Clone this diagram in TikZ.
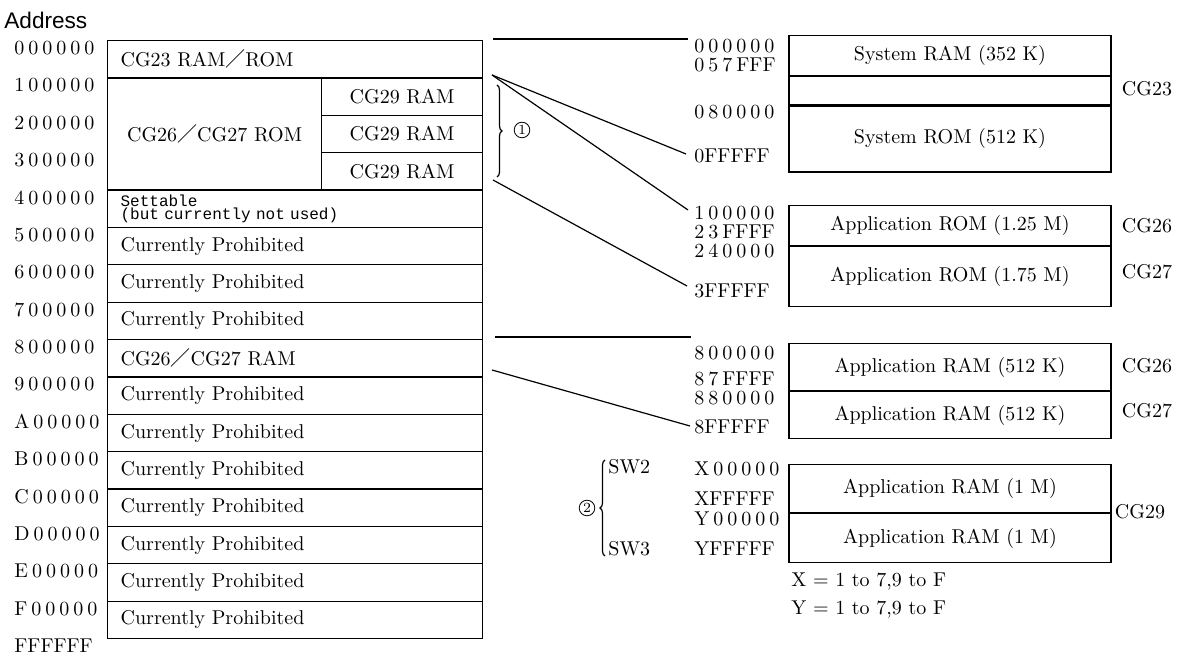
\documentclass[tikz,border=0pt]{standalone}
\usepackage{fontspec}
\newfontfamily\headfont{Liberation Sans}
\newfontfamily\notefont{Liberation Mono}
\newfontfamily\cjkfont{Noto Sans CJK JP}
\usetikzlibrary{positioning,decorations.pathreplacing}
% spaced digits of an address
\def\dgloop#1{\ifx#1\relax\else#1\hspace{2pt}\expandafter\dgloop\fi}
\newcommand\dg[1]{\dgloop#1\relax}
\newcommand\fsl{{\cjkfont ／}}
\tikzset{
    memcell/.style={
        draw,
        line width=0.6pt,
        rectangle,
        inner sep=0pt,
        font=\fontsize{10}{12}\selectfont
    },
    memrow/.style={
        memcell,
        anchor=north west,
        minimum width=187.5pt,
        minimum height=18.69pt,
        inner xsep=6.5pt,
        text width=174.5pt,
        align=left
    },
    block/.style={
        memcell,
        minimum width=161pt
    },
    addr/.style={
        anchor=west,
        inner sep=0pt,
        font=\fontsize{10}{11}\selectfont
    },
    cglab/.style={
        inner sep=0pt,
        font=\fontsize{10}{12}\selectfont
    },
    ringnum/.style={
        draw,
        circle,
        line width=0.4pt,
        inner sep=0.6pt,
        minimum size=7pt,
        font=\fontsize{7}{7}\selectfont
    },
    link/.style={
        line width=0.6pt
    }
}

\begin{document}
\begin{tikzpicture}[x=0.5pt,y=-0.5pt]
    \useasboundingbox (0,0) rectangle (1178,656);
    \node[anchor=west, inner sep=0pt, font=\headfont\fontsize{11.3}{13}\selectfont] (title) at (4,20) {Address};

    % left map, one row per 100000
    \node[memrow] (r0) at (107,40) {CG23 RAM\fsl ROM};
    \node[memcell, anchor=north west, minimum width=107pt, minimum height=56.06pt] (r1) at (107,77.375) {CG26\fsl CG27 ROM};
    \foreach \k in {1,2,3}
        \node[memcell, anchor=north west, minimum width=80.5pt, minimum height=18.69pt] (ram\k) at (321,{40+37.375*\k}) {CG29 RAM};
    \node[memrow, font=\notefont\fontsize{8}{6.5}\selectfont] (r4) at (107,189.5) {Settable\\(but currently not used)};
    \foreach \k in {5,6,7,9,10,11,12,13,14,15}
        \node[memrow] (r\k) at (107,{40+37.375*\k}) {Currently Prohibited};
    \node[memrow] (r8) at (107,339) {CG26\fsl CG27 RAM};

    \foreach \k/\lab in {0/000000,1/100000,2/200000,3/300000,4/400000,5/500000,6/600000,7/700000,8/800000,9/900000,10/A00000,11/B00000,12/C00000,13/D00000,14/E00000,15/F00000}
        \node[addr] (l\k) at (14,{48+37.375*\k}) {\expandafter\dg\expandafter{\lab}};
    \node[addr] (l16) at (14,646) {FFFFFF};

    % right blocks
    \node[block, anchor=north, minimum height=20pt] (sysram) at (950,35) {System RAM (352 K)};
    \node[block, minimum height=14pt, below=0pt of sysram] (sysgap) {};
    \node[block, minimum height=33pt, below=0pt of sysgap] (sysrom) {System ROM (512 K)};

    \node[block, anchor=north, minimum height=20pt] (approm1) at (950,205) {Application ROM (1.25 M)};
    \node[block, minimum height=30pt, below=0pt of approm1] (approm2) {Application ROM (1.75 M)};

    \node[block, anchor=north, minimum height=23.5pt] (appram1) at (950,343) {Application RAM (512 K)};
    \node[block, minimum height=23.5pt, below=0pt of appram1] (appram2) {Application RAM (512 K)};

    \node[block, anchor=north, minimum height=24pt] (cgram1) at (950,464) {Application RAM (1 M)};
    \node[block, minimum height=24.5pt, below=0pt of cgram1] (cgram2) {Application RAM (1 M)};

    % right addresses
    \node[addr] (a000000) at (694,46) {\dg{000000}};
    \node[addr] (a057FFF) at (694,65) {\dg{057}FFF};
    \node[addr] (a080000) at (694,112) {\dg{080000}};
    \node[addr] (a0FFFFF) at (694,156) {0FFFFF};
    \node[addr] (a100000) at (694,213) {\dg{100000}};
    \node[addr] (a23FFFF) at (694,232) {\dg{23}FFFF};
    \node[addr] (a240000) at (694,251) {\dg{240000}};
    \node[addr] (a3FFFFF) at (694,291) {3FFFFF};
    \node[addr] (a800000) at (694,353) {\dg{800000}};
    \node[addr] (a87FFFF) at (694,379) {\dg{87}FFFF};
    \node[addr] (a880000) at (694,398) {\dg{880000}};
    \node[addr] (a8FFFFF) at (694,427) {8FFFFF};
    \node[addr] (aX00000) at (694,469) {\dg{X00000}};
    \node[addr] (aXFFFFF) at (694,499) {XFFFFF};
    \node[addr] (aY00000) at (694,519) {\dg{Y00000}};
    \node[addr] (aYFFFFF) at (694,549) {YFFFFF};

    \node[cglab] (cg23) at (1147,89) {CG23};
    \node[cglab] (cg26a) at (1147,226) {CG26};
    \node[cglab] (cg27a) at (1147,272) {CG27};
    \node[cglab] (cg26b) at (1147,366) {CG26};
    \node[cglab] (cg27b) at (1147,411) {CG27};
    \node[cglab] (cg29) at (1140,512) {CG29};

    % where the left map is taken apart
    \coordinate (tapA) at (493,39);
    \coordinate (tapB) at (492,75);
    \coordinate (tapD) at (493,180);
    \coordinate (tapE) at (495,337);
    \coordinate (tapF) at (492,370);
    \coordinate (endA) at (688,39);
    \coordinate (endB) at (686,154);
    \coordinate (endC) at (688,210);
    \coordinate (endD) at (687,286);
    \coordinate (endE) at (691,337);
    \coordinate (endF) at (690,426);
    \draw[link] (tapA) -- (endA);
    \draw[link] (tapB) -- (endB);
    \draw[link] (tapB) -- (endC);
    \draw[link] (tapD) -- (endD);
    \draw[link] (tapE) -- (endE);
    \draw[link] (tapF) -- (endF);

    % braces
    \draw[link, decorate, decoration={brace, amplitude=2.5pt}] (497,85) -- (497,177);
    \node[ringnum] (one) at (522,130) {1};
    \draw[link, decorate, decoration={brace, amplitude=2.5pt}] (605,556) -- (605,460);
    \node[ringnum] (two) at (587,508) {2};
    \node[addr] (sw2) at (608,467) {SW2};
    \node[addr] (sw3) at (608,549) {SW3};

    \node[addr] (xnote) at (791,582) {X = 1 to 7,9 to F};
    \node[addr] (ynote) at (791,610) {Y = 1 to 7,9 to F};
\end{tikzpicture}
\end{document}
